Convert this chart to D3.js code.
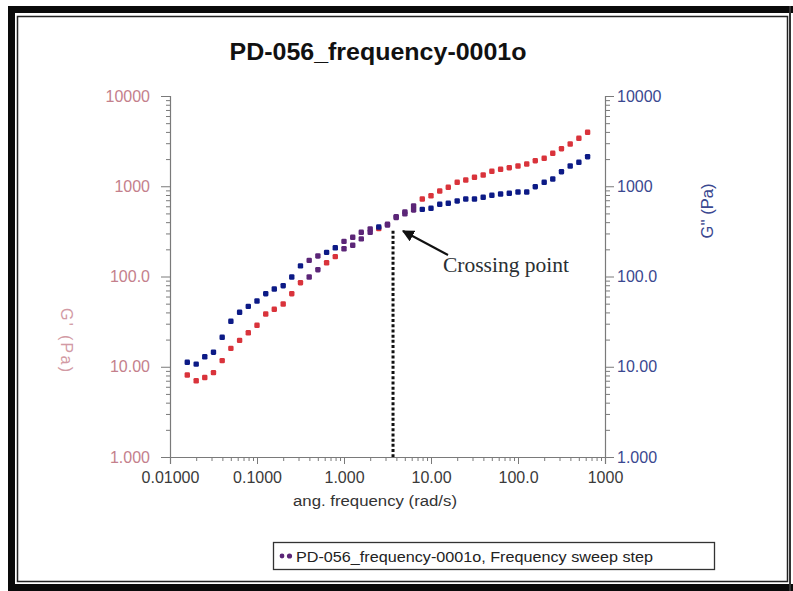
<!DOCTYPE html>
<html>
<head>
<meta charset="utf-8">
<script src="https://cdn.jsdelivr.net/npm/d3@7"></script>
<style>
  html, body { margin: 0; padding: 0; background: #fff; }
  svg { display: block; }
</style>
</head>
<body>
<svg id="chart" width="793" height="591" font-family="Arial, 'Liberation Sans', Helvetica, sans-serif"></svg>
<script>
// Angular frequency sweep (rad/s), 10 points per decade
const freq = [0.0158, 0.0200, 0.0251, 0.0316, 0.0398, 0.0501, 0.0631, 0.0794, 0.100, 0.126,
              0.158, 0.200, 0.251, 0.316, 0.398, 0.501, 0.631, 0.794, 1.00, 1.26,
              1.58, 2.00, 2.51, 3.16, 3.98, 5.01, 6.31, 7.94, 10.0, 12.6,
              15.8, 20.0, 25.1, 31.6, 39.8, 50.1, 63.1, 79.4, 100, 126,
              158, 200, 251, 316, 398, 501, 631];
// Storage modulus G' (Pa)
const gPrime = [8.1, 7.0, 7.6, 8.6, 11.7, 16.0, 19.6, 23.8, 28.8, 38.4,
                43.3, 49.6, 64.5, 85.4, 98.7, 119, 142, 166, 203, 222,
                261, 309, 340, 372, 460, 520, 604, 722, 785, 886,
                973, 1106, 1173, 1257, 1333, 1465, 1541, 1606, 1676, 1765,
                1919, 2041, 2318, 2608, 2939, 3397, 3962];
// Loss modulus G'' (Pa)
const gDouble = [11.2, 10.7, 12.9, 14.5, 21.2, 31.9, 40.1, 46.7, 53.5, 64.5,
                 72.7, 79.1, 98.7, 131, 151, 169, 185, 208, 245, 272,
                 309, 336, 353, 379, 450, 495, 546, 555, 570, 631,
                 647, 687, 722, 722, 755, 794, 821, 835, 864, 864,
                 989, 1106, 1203, 1449, 1676, 1842, 2125];
// G' = G'' crossover frequency (rad/s)
const crossingFreq = 3.66;

const xTicks = [0.01, 0.1, 1, 10, 100, 1000];
const xTickLabels = ["0.01000", "0.1000", "1.000", "10.00", "100.0", "1000"];
const yTicks = [1, 10, 100, 1000, 10000];
const yTickLabels = ["1.000", "10.00", "100.0", "1000", "10000"];

const titleText = "PD-056_frequency-0001o";
const xTitle = "ang. frequency (rad/s)";
const yLeftTitle = "G' (Pa)";
const yRightTitle = "G'' (Pa)";
const legendText = "PD-056_frequency-0001o, Frequency sweep step";
const annotationText = "Crossing point";

const RED = "#d9333b", BLUE = "#0c1a86", PURPLE = "#5b2577";
const LEFT_COL = "#c4808c", RIGHT_COL = "#3a4890", AXIS_COL = "#7a7a7a";
const SANS = "Arial, 'Liberation Sans', Helvetica, sans-serif";
const SERIF = "'Liberation Serif', 'Times New Roman', Times, serif";

const svg = d3.select("#chart");

// ----- frame: heavy black border with a thin inner rule -----
const frame = svg.append("g");
frame.append("rect").attr("x", 8).attr("y", 6).attr("width", 785).attr("height", 7).attr("fill", "#0a0a0a");
frame.append("rect").attr("x", 8).attr("y", 6).attr("width", 7).attr("height", 585).attr("fill", "#0a0a0a");
frame.append("rect").attr("x", 8).attr("y", 584).attr("width", 785).attr("height", 7).attr("fill", "#0a0a0a");
frame.append("rect").attr("x", 789).attr("y", 6).attr("width", 2).attr("height", 585).attr("fill", "#333");
frame.append("rect").attr("x", 17.5).attr("y", 16.5).attr("width", 770).attr("height", 565)
  .attr("fill", "none").attr("stroke", "#222").attr("stroke-width", 1.5);

// ----- scales -----
const x = d3.scaleLog().domain([0.01, 1000]).range([170, 605]);
const y = d3.scaleLog().domain([1, 10000]).range([457, 96]);

const minors = (lo, hi) => {
  const out = [];
  for (let d = lo; d < hi; d *= 10) for (let k = 2; k <= 9; k++) out.push(d * k);
  return out;
};
const xMinor = minors(0.01, 1000);
const yMinor = minors(1, 10000);

// ----- title -----
svg.append("text").attr("x", 378).attr("y", 60).attr("text-anchor", "middle")
  .style("font-family", SANS).attr("font-size", 24.5).attr("font-weight", "bold").attr("fill", "#111")
  .attr("textLength", 297).attr("lengthAdjust", "spacingAndGlyphs").text(titleText);

// ----- axes -----
function styleAxis(g, col) {
  g.attr("font-family", null).attr("font-size", null);
  g.select(".domain").attr("stroke", AXIS_COL).attr("stroke-width", 1.2);
  g.selectAll(".tick line").attr("stroke", AXIS_COL).attr("stroke-width", 1);
  g.selectAll(".tick text").attr("fill", col).style("font-size", "16px").style("font-family", SANS);
}

// bottom
const xMinorG = svg.append("g").attr("transform", "translate(0,457)")
  .call(d3.axisBottom(x).tickValues(xMinor).tickSize(4).tickFormat(""));
xMinorG.select(".domain").remove();
xMinorG.selectAll(".tick line").attr("stroke", AXIS_COL);
const xAxisG = svg.append("g").attr("transform", "translate(0,457)")
  .call(d3.axisBottom(x).tickValues(xTicks).tickSize(7).tickPadding(8)
        .tickFormat((d, i) => xTickLabels[i]));
styleAxis(xAxisG, "#3a3a3a");

// left
const yMinorL = svg.append("g").attr("transform", "translate(170,0)")
  .call(d3.axisLeft(y).tickValues(yMinor).tickSize(4).tickFormat(""));
yMinorL.select(".domain").remove();
yMinorL.selectAll(".tick line").attr("stroke", AXIS_COL);
const yAxisL = svg.append("g").attr("transform", "translate(170,0)")
  .call(d3.axisLeft(y).tickValues(yTicks).tickSize(9).tickPadding(11)
        .tickFormat((d, i) => yTickLabels[i]));
styleAxis(yAxisL, LEFT_COL);

// right
const yMinorR = svg.append("g").attr("transform", "translate(605,0)")
  .call(d3.axisRight(y).tickValues(yMinor).tickSize(5).tickFormat(""));
yMinorR.select(".domain").remove();
yMinorR.selectAll(".tick line").attr("stroke", AXIS_COL);
const yAxisR = svg.append("g").attr("transform", "translate(605,0)")
  .call(d3.axisRight(y).tickValues(yTicks).tickSize(9).tickPadding(3)
        .tickFormat((d, i) => yTickLabels[i]));
styleAxis(yAxisR, RIGHT_COL);

// axis titles
svg.append("text").attr("x", 375).attr("y", 506).attr("text-anchor", "middle")
  .style("font-family", SANS).attr("font-size", 15.5).attr("fill", "#333")
  .attr("textLength", 164).attr("lengthAdjust", "spacingAndGlyphs").text(xTitle);
svg.append("text").attr("transform", "translate(61,340) rotate(90)")
  .attr("text-anchor", "middle").style("font-family", SANS).attr("font-size", 16).attr("fill", "#d29aa4")
  .attr("textLength", 64).attr("lengthAdjust", "spacing").text(yLeftTitle);
svg.append("text").attr("transform", "translate(713,211) rotate(-90)")
  .attr("text-anchor", "middle").style("font-family", SANS).attr("font-size", 16.5).attr("fill", RIGHT_COL)
  .text(yRightTitle);

// ----- crossover marker: dotted drop line -----
svg.append("line")
  .attr("x1", x(crossingFreq)).attr("x2", x(crossingFreq))
  .attr("y1", y(Math.sqrt(gPrime[23] * gDouble[23])) + 6).attr("y2", 457)
  .attr("stroke", "#111").attr("stroke-width", 3).attr("stroke-dasharray", "3,2.2");

// ----- data markers -----
// points in the crossover band render in the blended violet tone
const blendIdx = new Set([14, 15, 18, 19, 20, 21, 23, 24, 25, 26]);
const sz = 5.4;
function drawSeries(vals, col) {
  svg.append("g").selectAll("rect").data(freq).join("rect")
    .attr("x", d => x(d) - sz / 2)
    .attr("y", (d, i) => y(vals[i]) - sz / 2)
    .attr("width", sz).attr("height", sz).attr("rx", 1.3)
    .attr("fill", (d, i) => blendIdx.has(i) ? PURPLE : col);
}
drawSeries(gPrime, RED);
drawSeries(gDouble, BLUE);

// ----- annotation arrow -----
const defs = svg.append("defs");
defs.append("marker").attr("id", "arrowHead").attr("viewBox", "0 0 10 10")
  .attr("refX", 9).attr("refY", 5).attr("markerWidth", 6).attr("markerHeight", 6)
  .attr("markerUnits", "strokeWidth").attr("orient", "auto")
  .append("path").attr("d", "M0,0 L10,5 L0,10 z").attr("fill", "#111");
svg.append("line").attr("x1", 448).attr("y1", 255)
  .attr("x2", x(crossingFreq) + 10).attr("y2", 231)
  .attr("stroke", "#111").attr("stroke-width", 2).attr("marker-end", "url(#arrowHead)");
svg.append("text").attr("x", 443).attr("y", 272)
  .style("font-family", SERIF).attr("font-size", 21.5).attr("fill", "#2a2f33").text(annotationText);

// ----- legend -----
const lg = svg.append("g");
lg.append("rect").attr("x", 273.5).attr("y", 542.5).attr("width", 441).attr("height", 27)
  .attr("fill", "#fff").attr("stroke", "#333").attr("stroke-width", 1.3);
lg.append("circle").attr("cx", 282).attr("cy", 556).attr("r", 2.4).attr("fill", PURPLE);
lg.append("circle").attr("cx", 289.5).attr("cy", 556).attr("r", 2.6).attr("fill", PURPLE);
lg.append("text").attr("x", 296).attr("y", 561.5).style("font-family", SANS)
  .attr("font-size", 15).attr("fill", "#222")
  .attr("textLength", 357).attr("lengthAdjust", "spacingAndGlyphs").text(legendText);
</script>
</body>
</html>
